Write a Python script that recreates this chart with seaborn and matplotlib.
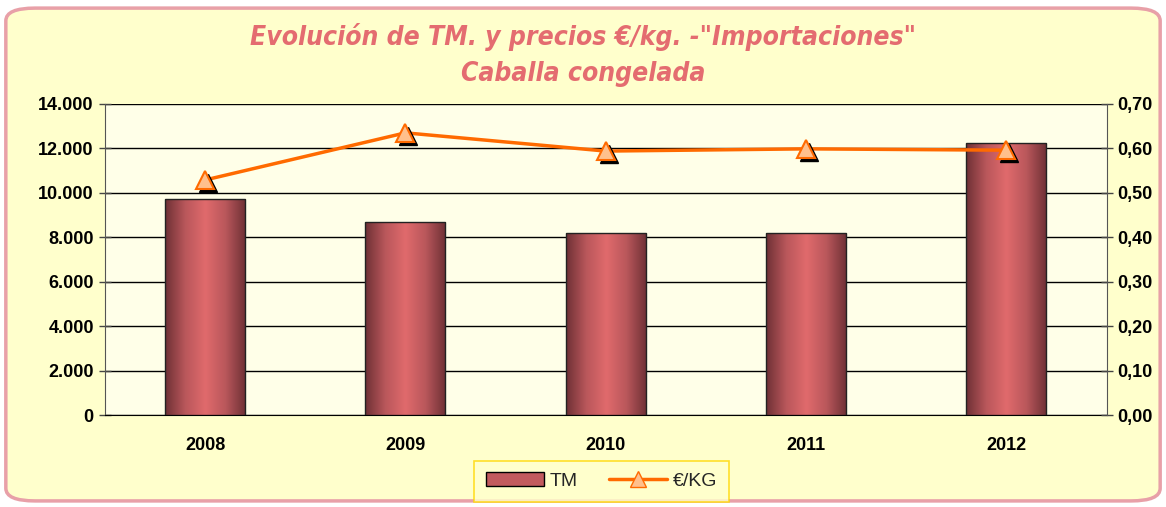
import numpy as np
import pandas as pd
import matplotlib
matplotlib.use('Agg')
import matplotlib.pyplot as plt
import seaborn as sns
from matplotlib.colors import LinearSegmentedColormap
from matplotlib.patches import FancyBboxPatch, Patch
from matplotlib.lines import Line2D
from matplotlib.ticker import FuncFormatter
import matplotlib.transforms as mtransforms

# datos
years = ['2008', '2009', '2010', '2011', '2012']
tm = [9730, 8690, 8200, 8200, 12250]
precio = [0.529, 0.635, 0.594, 0.599, 0.596]

df = pd.DataFrame({'year': years, 'TM': tm, 'precio': precio})

sns.set_style('white')
plt.rcParams['font.family'] = ['Liberation Sans', 'DejaVu Sans']

fig = plt.figure(figsize=(11.66, 5.07), dpi=100)
fig.patch.set_facecolor('white')

# marco exterior redondeado
frame = FancyBboxPatch((0.005, 0.012), 0.99, 0.972,
                       boxstyle='round,pad=0,rounding_size=0.025',
                       transform=fig.transFigure, facecolor='#FFFFCC',
                       edgecolor='#E8A0A8', linewidth=2.5, zorder=-10)
fig.patches.append(frame)

ax = fig.add_axes([0.090, 0.181, 0.859, 0.614])
ax.set_facecolor('#FFFFE8')

sns.barplot(data=df, x='year', y='TM', ax=ax, width=0.4, color='#D86464',
            edgecolor='#222222', linewidth=1, zorder=3)
ax.set_ylim(0, 14000)
ax.set_xlim(-0.5, len(years) - 0.5)

# degradado en las barras
cmap = LinearSegmentedColormap.from_list('bar', ['#6E3035', '#B9575B', '#E06A6C', '#B9575B', '#6E3035'])
grad = np.linspace(0, 1, 256).reshape(1, -1)
for p in ax.patches:
    x0, y0 = p.get_x(), p.get_y()
    w, h = p.get_width(), p.get_height()
    im = ax.imshow(grad, cmap=cmap, aspect='auto', extent=[x0, x0 + w, y0, y0 + h], zorder=2.9)
    im.set_clip_path(p)
    p.set_facecolor('none')
ax.set_xlim(-0.5, len(years) - 0.5)
ax.set_ylim(0, 14000)

ax.set_yticks(np.arange(0, 14001, 2000))
ax.yaxis.set_major_formatter(FuncFormatter(lambda v, _: f'{int(v):,}'.replace(',', '.')))
ax.grid(axis='y', color='black', linewidth=1, zorder=0)
ax.set_axisbelow(True)
ax.set_xlabel('')
ax.set_ylabel('')
ax.tick_params(axis='y', direction='inout', length=8, width=1, color='#444444',
               labelsize=13, labelcolor='black', pad=4)
ax.tick_params(axis='x', length=0, labelsize=13, labelcolor='black', pad=16)
for lab in ax.get_xticklabels() + ax.get_yticklabels():
    lab.set_fontweight('bold')
for s in ['top', 'right']:
    ax.spines[s].set_visible(False)
ax.spines['left'].set_color('#555555')
ax.spines['bottom'].set_color('black')

# eje secundario
ax2 = ax.twinx()
ax2.set_ylim(0, 0.70)
ax2.set_yticks(np.arange(0, 0.701, 0.1))
ax2.yaxis.set_major_formatter(FuncFormatter(lambda v, _: f'{v:.2f}'.replace('.', ',')))
ax2.tick_params(axis='y', direction='inout', length=8, width=1, color='#444444',
                labelsize=13, labelcolor='black', pad=4)
for lab in ax2.get_yticklabels():
    lab.set_fontweight('bold')
for s in ['top', 'left', 'bottom']:
    ax2.spines[s].set_visible(False)
ax2.spines['right'].set_color('#555555')

xpos = np.arange(len(years))
ax2.plot(xpos, precio, color='#FF6A00', linewidth=2.5, zorder=4)
shadow = mtransforms.offset_copy(ax2.transData, fig=fig, x=3, y=-3, units='dots')
ax2.plot(xpos, precio, linestyle='none', marker='^', markersize=13,
         color='black', transform=shadow, zorder=5)
ax2.plot(xpos, precio, linestyle='none', marker='^', markersize=13,
         markerfacecolor='#FFC08C', markeredgecolor='#FF6A00', markeredgewidth=1.5, zorder=6)
ax2.set_xlim(-0.5, len(years) - 0.5)

# titulo
title_kw = dict(ha='center', va='center', fontsize=19, fontstyle='italic', fontweight='bold',
                color='#E46C70', family='DejaVu Sans', stretch='condensed')
fig.text(0.5, 0.928, 'Evolución de TM. y precios €/kg. -"Importaciones"', **title_kw)
fig.text(0.5, 0.855, 'Caballa congelada', **title_kw)

# leyenda
handles = [Patch(facecolor='#C25A5E', edgecolor='black', label='TM'),
           Line2D([0], [0], color='#FF6A00', linewidth=2.5, marker='^', markersize=11,
                  markerfacecolor='#FFC08C', markeredgecolor='#FF6A00', label='€/KG')]
leg = fig.legend(handles=handles, loc='center', bbox_to_anchor=(0.516, 0.051), ncol=2,
                 frameon=True, fancybox=False, fontsize=14, handlelength=3, columnspacing=1.6,
                 borderpad=0.6, handletextpad=0.3)
leg.get_frame().set_facecolor('#FFFFCC')
leg.get_frame().set_edgecolor('#FFD700')
leg.get_frame().set_linewidth(1.2)

fig.savefig('out.png', dpi=100)
